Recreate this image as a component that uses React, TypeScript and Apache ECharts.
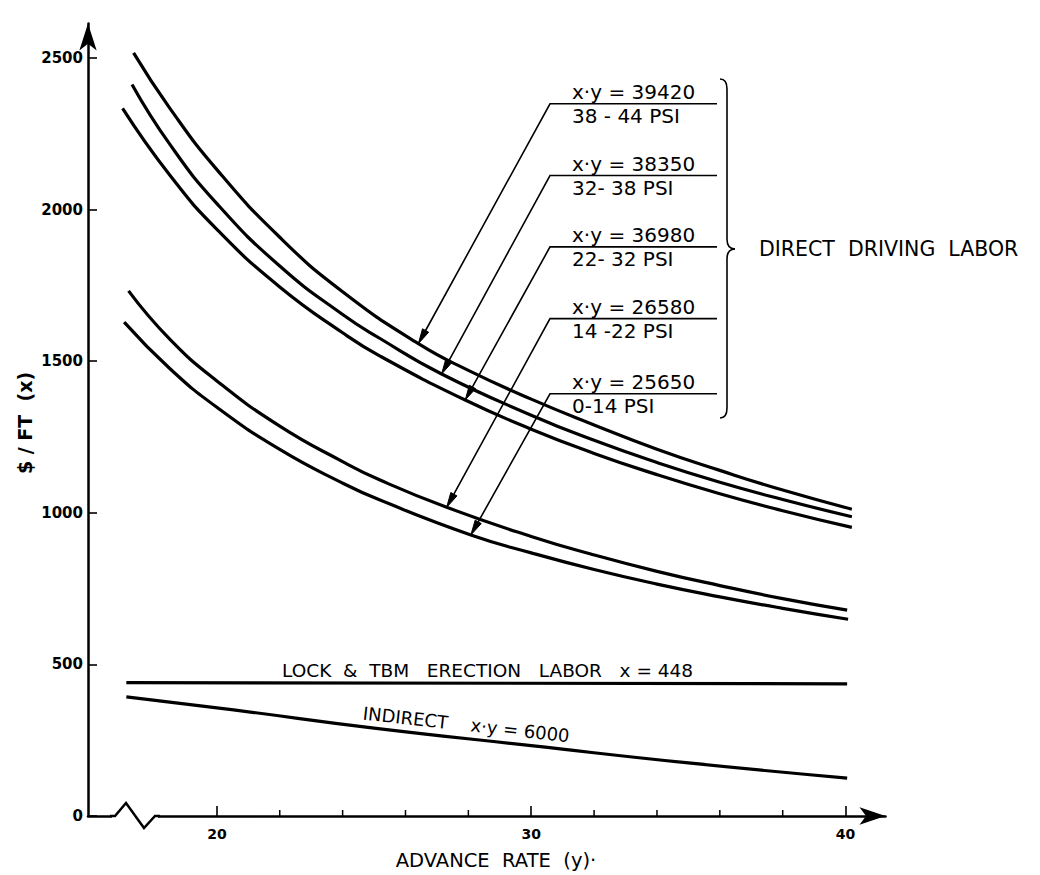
import React, { useEffect, useRef } from "react";
import * as echarts from "echarts";

// ---- data (advance rate y, cost $/ft x) ----
const rateMinorTicks = [22, 24, 26, 28, 32, 34, 36, 38];
const rateLabels = [20, 30, 40];
const costLabels = [0, 500, 1000, 1500, 2000, 2500];

const curve39420 = [
  [17.35, 2517], [18.5, 2335], [20, 2132], [22, 1909], [24, 1729], [26.41, 1558],
  [28, 1470], [30, 1375], [32, 1290], [34, 1210], [36, 1140], [38, 1075], [40.2, 1012],
];
const curve38350 = [
  [17.3, 2413], [18.5, 2216], [20, 2020], [22, 1814], [24, 1654], [25.19, 1575],
  [27.15, 1458], [30, 1322], [32, 1239], [34, 1166], [36, 1101], [38, 1044], [40.2, 987],
];
const curve36980 = [
  [17.0, 2334], [18.5, 2114], [20, 1935], [22, 1745], [24, 1594], [25.19, 1517],
  [27.9, 1372], [30, 1276], [32, 1196], [34, 1126], [36, 1063], [38, 1007], [40.2, 952],
];
const curve26580 = [
  [17.19, 1732], [18.5, 1573], [20, 1435], [22, 1286], [24, 1169], [25.19, 1108],
  [27.31, 1018], [30, 922], [32, 861], [34, 807], [36, 760], [38, 717], [40.05, 679],
];
const curve25650 = [
  [17.05, 1629], [18.5, 1476], [20, 1348], [22, 1209], [24, 1098], [25.19, 1042],
  [28.08, 927], [30, 868], [32, 813], [34, 765], [36, 723], [38, 685], [40.08, 649],
];
const lockErection = [[17.12, 440], [40.05, 436]];
const indirect = [[17.12, 393], [20.53, 350], [25, 290], [30, 232], [35, 175], [40.05, 125]];

const directCurves = [curve39420, curve38350, curve36980, curve26580, curve25650];
const directNames = ["x·y = 39420", "x·y = 38350", "x·y = 36980", "x·y = 26580", "x·y = 25650"];
const psiRanges = ["38 - 44 PSI", "32- 38 PSI", "22- 32 PSI", "14 -22 PSI", "0-14 PSI"];
const arrowTips = [[26.41, 1558], [27.15, 1458], [27.9, 1372], [27.31, 1018], [28.08, 927]];

const FONT = '"DejaVu Sans", "Liberation Sans", sans-serif';

export default function App() {
  const ref = useRef<HTMLDivElement>(null);

  useEffect(() => {
    if (!ref.current) return;
    const chart = echarts.init(ref.current, null, { renderer: "svg" });

    const lineSeries = (name: string, data: number[][], smooth = true) => ({
      name,
      type: "line",
      data,
      smooth,
      showSymbol: false,
      symbol: "none",
      lineStyle: { color: "#000", width: 3.2 },
      z: 3,
    });

    const option: any = {
      animation: false,
      backgroundColor: "#fff",
      grid: { left: 88, right: 154.5, top: 23.5, bottom: 59, containLabel: false },
      xAxis: {
        type: "value",
        min: 15.9,
        max: 41.27,
        axisLine: {
          show: true,
          onZero: false,
          symbol: ["none", "arrow"],
          symbolSize: [13, 26],
          lineStyle: { color: "#000", width: 2.5 },
        },
        axisTick: {
          show: true,
          inside: true,
          length: 10,
          customValues: rateLabels,
          lineStyle: { color: "#000", width: 1.6 },
        },
        axisLabel: {
          customValues: rateLabels,
          color: "#000",
          fontFamily: FONT,
          fontWeight: "bold",
          fontSize: 14,
          margin: 11,
        },
        splitLine: { show: false },
      },
      yAxis: {
        type: "value",
        min: 0,
        max: 2614,
        axisLine: {
          show: true,
          onZero: false,
          symbol: ["none", "arrow"],
          symbolSize: [13, 27],
          lineStyle: { color: "#000", width: 2.5 },
        },
        axisTick: {
          show: true,
          inside: true,
          length: 9,
          customValues: costLabels,
          lineStyle: { color: "#000", width: 1.6 },
        },
        axisLabel: {
          customValues: costLabels,
          formatter: (v: number) => String(v),
          color: "#000",
          fontFamily: FONT,
          fontWeight: "bold",
          fontSize: 15,
          margin: 5,
        },
        splitLine: { show: false },
      },
      series: [
        ...directCurves.map((c, i) => lineSeries(directNames[i], c)),
        lineSeries("LOCK & TBM ERECTION LABOR x = 448", lockErection, false),
        lineSeries("INDIRECT x·y = 6000", indirect),
      ],
    };
    chart.setOption(option);

    // ---- annotations, computed in pixels from the axes ----
    const px = (p: number[]) => chart.convertToPixel({ xAxisIndex: 0, yAxisIndex: 0 }, p) as number[];
    const y0 = px([20, 0])[1];

    const g: any[] = [];
    const textEl = (text: string, x: number, y: number, size: number, extra: any = {}) => ({
      type: "text",
      z: 10,
      style: {
        text,
        x,
        y,
        fill: "#000",
        fontFamily: FONT,
        fontSize: size,
        textAlign: "left",
        textVerticalAlign: "middle",
        ...extra,
      },
    });

    // minor ticks on the rate axis
    rateMinorTicks.forEach((v) => {
      const p = px([v, 0]);
      g.push({
        type: "line",
        z: 10,
        shape: { x1: p[0], y1: y0, x2: p[0], y2: y0 - 6 },
        style: { stroke: "#000", lineWidth: 1.5 },
      });
    });

    // axis break on x-axis
    g.push({
      type: "rect",
      z: 20,
      shape: { x: 112, y: y0 - 4, width: 46, height: 8 },
      style: { fill: "#fff" },
    });
    g.push({
      type: "polyline",
      z: 21,
      shape: { points: [[110, y0], [115, y0], [126, y0 - 13], [144, y0 + 12], [155, y0], [160, y0]] },
      style: { stroke: "#000", lineWidth: 2.5, fill: "none" },
    });

    // leaders and labels
    const elbowY = [103.8, 175.5, 246.9, 318.6, 393.8];
    const elbowX = 550;
    const lineEnd = 717;
    arrowTips.forEach((tipVal, i) => {
      const tip = px(tipVal);
      const ex = elbowX, ey = elbowY[i];
      const dx = tip[0] - ex, dy = tip[1] - ey;
      const len = Math.sqrt(dx * dx + dy * dy);
      const ux = dx / len, uy = dy / len;
      const L = 15, W = 3.5;
      const bx = tip[0] - ux * L, by = tip[1] - uy * L;
      g.push({
        type: "polyline",
        z: 10,
        shape: { points: [[lineEnd, ey], [ex, ey], [bx, by]] },
        style: { stroke: "#000", lineWidth: 1.6, fill: "none" },
      });
      g.push({
        type: "polygon",
        z: 10,
        shape: {
          points: [
            [tip[0], tip[1]],
            [bx - uy * W, by + ux * W],
            [bx + uy * W, by - ux * W],
          ],
        },
        style: { fill: "#000", stroke: "#000", lineWidth: 1 },
      });
      g.push(textEl(directNames[i], 572, ey - 11.5, 20));
      g.push(textEl(psiRanges[i], 572, ey + 12.5, 20));
    });

    // brace
    const bx0 = 720, bx1 = 727, bxm = 735;
    const top = 79, bot = 418, mid = 249;
    const braceStyle = { stroke: "#000", lineWidth: 1.6, fill: "none" };
    g.push({ type: "bezierCurve", z: 10, shape: { x1: bx0, y1: top, cpx1: bx1, cpy1: top, x2: bx1, y2: top + 10 }, style: braceStyle });
    g.push({ type: "line", z: 10, shape: { x1: bx1, y1: top + 10, x2: bx1, y2: mid - 10 }, style: braceStyle });
    g.push({ type: "bezierCurve", z: 10, shape: { x1: bx1, y1: mid - 10, cpx1: bx1, cpy1: mid, x2: bxm, y2: mid }, style: braceStyle });
    g.push({ type: "bezierCurve", z: 10, shape: { x1: bxm, y1: mid, cpx1: bx1, cpy1: mid, x2: bx1, y2: mid + 10 }, style: braceStyle });
    g.push({ type: "line", z: 10, shape: { x1: bx1, y1: mid + 10, x2: bx1, y2: bot - 10 }, style: braceStyle });
    g.push({ type: "bezierCurve", z: 10, shape: { x1: bx1, y1: bot - 10, cpx1: bx1, cpy1: bot, x2: bx0, y2: bot }, style: braceStyle });
    g.push(textEl("DIRECT  DRIVING  LABOR", 759, mid, 20.5));

    // lock & indirect labels
    g.push(textEl("LOCK  &  TBM   ERECTION   LABOR   x = 448", 282, 670, 18.5));
    g.push({
      type: "text",
      z: 10,
      x: 363,
      y: 713,
      rotation: -0.11,
      style: {
        text: "INDIRECT    x·y = 6000",
        fill: "#000",
        fontFamily: FONT,
        fontSize: 18,
        textAlign: "left",
        textVerticalAlign: "middle",
      },
    });

    // axis titles
    g.push(textEl("ADVANCE  RATE  (y)·", 496, 860, 19.5, { textAlign: "center" }));
    g.push({
      type: "text",
      z: 10,
      x: 25,
      y: 423,
      rotation: Math.PI / 2,
      style: {
        text: "$ / FT  (x)",
        fill: "#000",
        fontFamily: FONT,
        fontWeight: "bold",
        fontSize: 19,
        textAlign: "center",
        textVerticalAlign: "middle",
      },
    });

    chart.setOption({ graphic: { elements: g } });

    return () => chart.dispose();
  }, []);

  return (
    <div
      ref={ref}
      style={{ position: "absolute", left: 0, top: 0, width: 1040, height: 875, background: "#fff" }}
    />
  );
}
